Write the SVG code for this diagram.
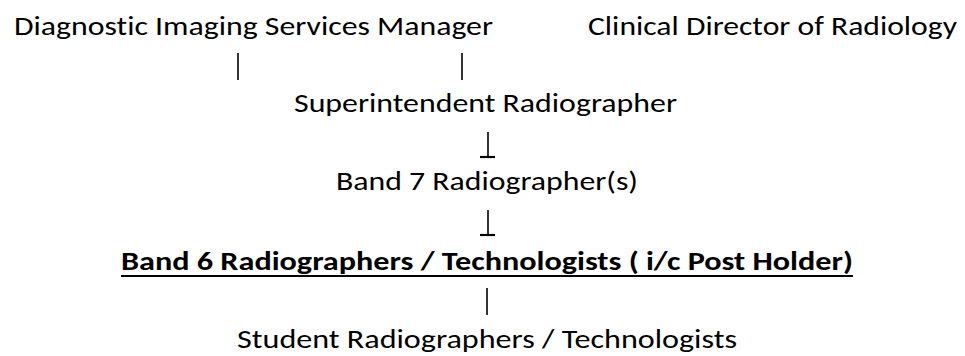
<svg xmlns="http://www.w3.org/2000/svg" width="965" height="356" viewBox="0 0 965 356">
<style>
.t{font-family:Carlito,Lato,"Liberation Sans",sans-serif;font-size:26px;fill:#000;font-variant-ligatures:none;font-feature-settings:"liga" 0}
.b{font-weight:bold}
.c{stroke:#000;stroke-width:1.6;fill:none}
.u{stroke:#000;stroke-width:2.2;fill:none}
</style>
<rect width="965" height="356" fill="#fff"/>
<g id="node-dism"><text class="t" x="14" y="35" textLength="479" lengthAdjust="spacingAndGlyphs">Diagnostic Imaging Services Manager</text></g>
<g id="node-cdr"><text class="t" x="588" y="35" textLength="369" lengthAdjust="spacingAndGlyphs">Clinical Director of Radiology</text></g>
<g id="node-super"><text class="t" x="294" y="112" textLength="383" lengthAdjust="spacingAndGlyphs">Superintendent Radiographer</text></g>
<g id="node-band7"><text class="t" x="336" y="190" textLength="302" lengthAdjust="spacingAndGlyphs">Band 7 Radiographer(s)</text></g>
<g id="node-band6"><text class="t b" x="121" y="270" textLength="732" lengthAdjust="spacingAndGlyphs">Band 6 Radiographers / Technologists ( i/c Post Holder)</text><line class="u" x1="121" y1="276" x2="853" y2="276"/></g>
<g id="node-student"><text class="t" x="237" y="348" textLength="500" lengthAdjust="spacingAndGlyphs">Student Radiographers / Technologists</text></g>
<g id="connectors">
<line class="c" x1="238" y1="53" x2="238" y2="80"/>
<line class="c" x1="462" y1="53" x2="462" y2="80"/>
<line class="c" x1="488" y1="132" x2="488" y2="157"/>
<line class="u" x1="480" y1="157" x2="495" y2="157"/>
<line class="c" x1="488" y1="210" x2="488" y2="235"/>
<line class="u" x1="480" y1="235" x2="495" y2="235"/>
<line class="c" x1="487" y1="288" x2="487" y2="315"/>
</g>
</svg>
